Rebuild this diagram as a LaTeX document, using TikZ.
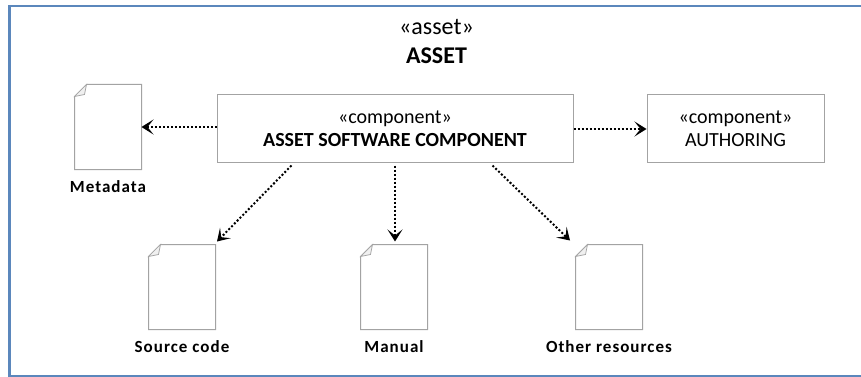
\documentclass[tikz,border=0pt]{standalone}
\usepackage{fontspec}
\setmainfont{Carlito}
\newfontfamily\doclabelfont[LetterSpace=6]{Carlito}
\usetikzlibrary{arrows.meta}
\definecolor{framecol}{HTML}{5B87BC}
\definecolor{boxcol}{HTML}{A3A3A3}
\tikzset{comp/.style={draw=boxcol, line width=1pt, fill=white, align=center, inner sep=0pt, font=\fontsize{20}{23}\selectfont},
docpage/.style={minimum width=67pt, minimum height=85pt, inner sep=0pt, outer sep=0pt},
doclabel/.style={font=\doclabelfont\bfseries\fontsize{17}{20}\selectfont, inner sep=0pt},
dep/.style={-{Stealth[length=12pt,width=15pt,inset=6pt]}, dash pattern=on 2pt off 2pt, line width=2pt, black},
title/.style={font=\fontsize{24}{28}\selectfont, inner sep=0pt}}

\begin{document}
\begin{tikzpicture}[x=1pt,y=-1pt]
\useasboundingbox (0,0) rectangle (861,377);
% frame, open at the right edge
\draw[framecol, line width=2.4pt] (861,6.3) -- (9.6,6.3) -- (9.6,375.7) -- (861,375.7);
\node[title] (stereo) at (436.5,27) {«asset»};
\node[title,font=\bfseries\fontsize{24}{28}\selectfont] (assetname) at (436.5,56) {ASSET};

% components
\node[comp, minimum width=356pt, minimum height=67pt] (main) at (395,128.5) {«component»\\\textbf{ASSET SOFTWARE COMPONENT}};
\node[comp, minimum width=177pt, minimum height=67pt] (authoring) at (735.5,128.5) {«component»\\AUTHORING};

% documents
\foreach \name/\x/\y/\ltext in {metadata/108/127/Metadata, source/182/287/Source code, manual/394/287/Manual, other/609/287/Other resources}{
     \node[docpage] (\name) at (\x,\y) {};
     \draw[boxcol, line width=1pt] ([yshift=-12pt]\name.north west) -- ([xshift=12pt]\name.north west) -- (\name.north east) -- (\name.south east) -- (\name.south west) -- cycle;
     \draw[boxcol, line width=0.7pt, fill=black!6] ([yshift=-12pt]\name.north west) -- ([xshift=12pt]\name.north west) -- ([xshift=10pt,yshift=-10pt]\name.north west) -- cycle;
     \node[doclabel] (\name label) at ([yshift=-17pt]\name.south) {\ltext};
}

% dependencies
\draw[dep] (main.west |- metadata.east) -- (metadata.east);
\draw[dep] ([yshift=-0.5pt]main.east) -- ([yshift=-0.5pt]authoring.west);
\draw[dep] ([xshift=75pt,yshift=-3pt]main.south west) -- ([xshift=1.5pt,yshift=3pt]source.north east);
\draw[dep] ([yshift=-3pt]main.south) -- ([xshift=1pt,yshift=3pt]manual.north);
\draw[dep] ([xshift=276pt,yshift=-3pt]main.south west) -- ([xshift=-39pt,yshift=4pt]other.north);

\end{tikzpicture}
\end{document}
